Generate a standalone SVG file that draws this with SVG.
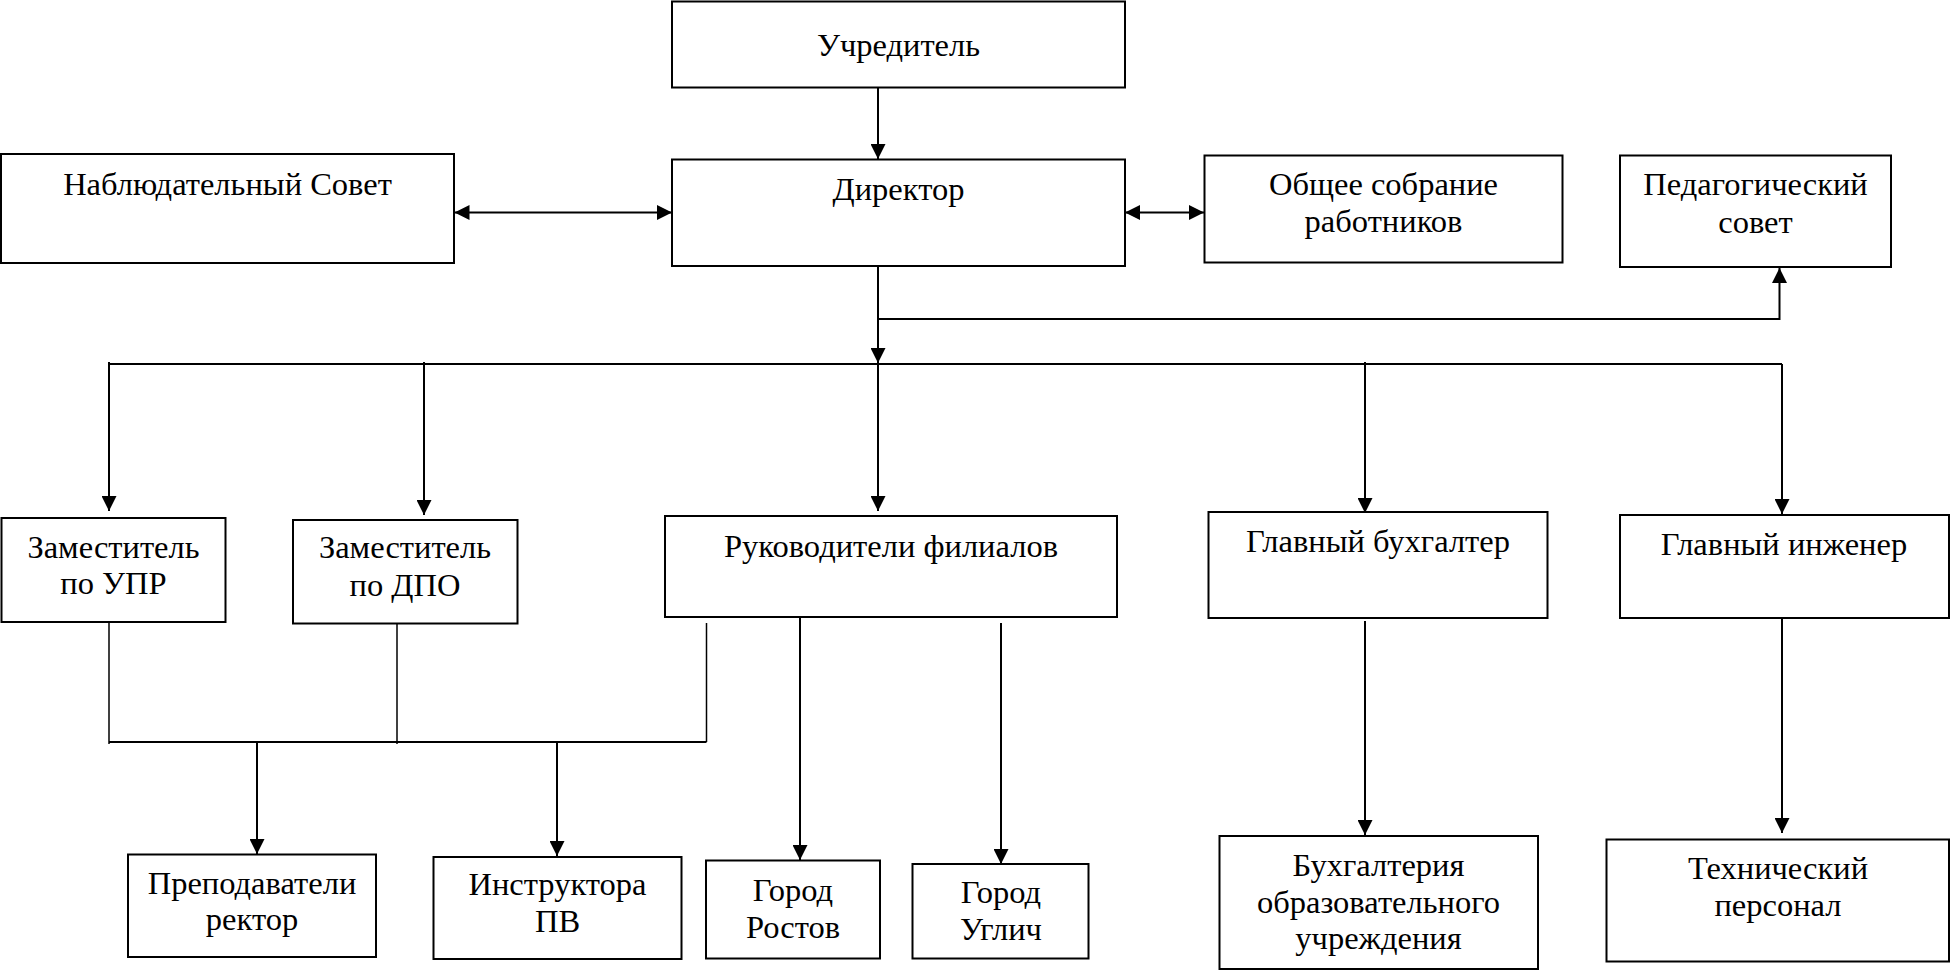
<svg xmlns="http://www.w3.org/2000/svg" width="1951" height="970" viewBox="0 0 1951 970" font-family="Liberation Serif, DejaVu Serif, serif">
<style>
rect.box{fill:#fff;stroke:#000;stroke-width:2}
text{font-family:'Liberation Serif','DejaVu Serif',serif;font-size:32.5px;fill:#000;text-anchor:middle}
.c{fill:none;stroke:#000;stroke-width:2}
.t{fill:none;stroke:#000;stroke-width:1.5}
</style>
<defs>
<marker id="ah" markerUnits="userSpaceOnUse" markerWidth="15" markerHeight="15" refX="15" refY="7.5" orient="auto-start-reverse">
<path d="M0,0 L15,7.5 L0,15 z" fill="#000"/>
</marker>
</defs>
<rect x="0" y="0" width="1951" height="970" fill="#fff"/>
<g id="connectors">
<path class="c" d="M878,88 V159" marker-end="url(#ah)"/>
<path class="c" d="M454.5,212.5 H672" marker-start="url(#ah)" marker-end="url(#ah)"/>
<path class="c" d="M1125,212.5 H1204" marker-start="url(#ah)" marker-end="url(#ah)"/>
<path class="c" d="M878,266 V363" marker-end="url(#ah)"/>
<path class="c" d="M878,319 H1779.5 V268" marker-end="url(#ah)"/>
<path class="c" d="M109,364 H1782"/>
<path class="c" d="M109,362 V511" marker-end="url(#ah)"/>
<path class="c" d="M424,362 V515" marker-end="url(#ah)"/>
<path class="c" d="M878,364 V511" marker-end="url(#ah)"/>
<path class="c" d="M1365,362 V513" marker-end="url(#ah)"/>
<path class="c" d="M1782,364 V514" marker-end="url(#ah)"/>
<path class="t" d="M109,622 V744"/>
<path class="t" d="M397,624 V744"/>
<path class="t" d="M706.5,623 V742"/>
<path class="c" d="M109,742 H706.5"/>
<path class="c" d="M257,742 V854" marker-end="url(#ah)"/>
<path class="c" d="M557,742 V856" marker-end="url(#ah)"/>
<path class="c" d="M800,617 V860" marker-end="url(#ah)"/>
<path class="c" d="M1001,623 V864" marker-end="url(#ah)"/>
<path class="c" d="M1365,621 V835" marker-end="url(#ah)"/>
<path class="c" d="M1782,618 V833" marker-end="url(#ah)"/>
</g>
<g id="uchreditel"><rect class="box" x="672" y="1.5" width="453" height="86"/><text x="898.5" y="56">Учредитель</text></g>
<g id="direktor"><rect class="box" x="672" y="159.5" width="453" height="106.5"/><text x="898.5" y="200">Директор</text></g>
<g id="nabl_sovet"><rect class="box" x="1" y="154" width="453" height="109"/><text x="227.5" y="195">Наблюдательный Совет</text></g>
<g id="obshee_sobranie"><rect class="box" x="1204.5" y="155.5" width="358" height="107"/><text x="1383.5" y="195">Общее собрание</text><text x="1383.5" y="232">работников</text></g>
<g id="ped_sovet"><rect class="box" x="1620" y="155.5" width="271" height="111.5"/><text x="1755.5" y="195">Педагогический</text><text x="1755.5" y="233">совет</text></g>
<g id="zam_upr"><rect class="box" x="1.5" y="518" width="224" height="104"/><text x="113.5" y="558">Заместитель</text><text x="113.5" y="594">по УПР</text></g>
<g id="zam_dpo"><rect class="box" x="293" y="520" width="224.5" height="103.5"/><text x="405" y="558">Заместитель</text><text x="405" y="596">по ДПО</text></g>
<g id="ruk_filialov"><rect class="box" x="665" y="516" width="452" height="101"/><text x="891" y="557">Руководители филиалов</text></g>
<g id="gl_buh"><rect class="box" x="1208.5" y="512" width="339" height="106"/><text x="1378" y="552">Главный бухгалтер</text></g>
<g id="gl_inzh"><rect class="box" x="1620" y="515" width="329" height="103"/><text x="1784" y="555">Главный инженер</text></g>
<g id="prepod"><rect class="box" x="128" y="854.5" width="248" height="102.5"/><text x="252" y="894">Преподаватели</text><text x="252" y="930">ректор</text></g>
<g id="instr"><rect class="box" x="433.5" y="857" width="248" height="102"/><text x="557.5" y="895">Инструктора</text><text x="557.5" y="932">ПВ</text></g>
<g id="rostov"><rect class="box" x="706" y="860.5" width="174" height="98"/><text x="793" y="901">Город</text><text x="793" y="938">Ростов</text></g>
<g id="uglich"><rect class="box" x="912.5" y="864" width="176" height="94.5"/><text x="1001" y="903">Город</text><text x="1001" y="940">Углич</text></g>
<g id="buhgalteria"><rect class="box" x="1219.5" y="836" width="318.5" height="133"/><text x="1378.5" y="876">Бухгалтерия</text><text x="1378.5" y="912.5">образовательного</text><text x="1378.5" y="949">учреждения</text></g>
<g id="tech_personal"><rect class="box" x="1606.5" y="839.5" width="342.5" height="122"/><text x="1778" y="879">Технический</text><text x="1778" y="915.5">персонал</text></g>
</svg>
